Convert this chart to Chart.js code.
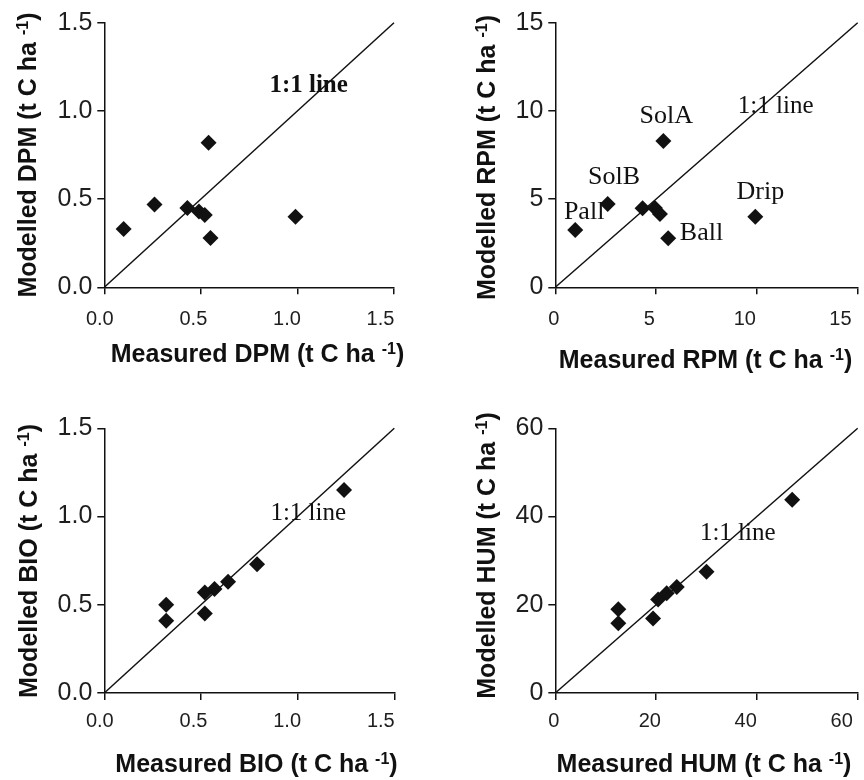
<!DOCTYPE html>
<html>
<head>
<meta charset="utf-8">
<script src="https://cdn.jsdelivr.net/npm/chart.js@4.4.0/dist/chart.umd.min.js"></script>
<style>
  html, body { margin: 0; padding: 0; background: #fff; }
  #wrap { position: relative; width: 864px; height: 780px; }
  canvas { position: absolute; }
</style>
</head>
<body>
<div id="wrap">
  <canvas id="dpmChart" width="432" height="390" style="left:0;top:0"></canvas>
  <canvas id="rpmChart" width="432" height="390" style="left:432px;top:0"></canvas>
  <canvas id="bioChart" width="432" height="390" style="left:0;top:390px"></canvas>
  <canvas id="humChart" width="432" height="390" style="left:432px;top:390px"></canvas>
</div>
<script>
// measured (x) vs modelled (y), t C ha-1, same 8 sites in every pool
const dpmMeasured = [0.10, 0.26, 0.43, 0.49, 0.52, 0.54, 0.55, 0.99];
const dpmModelled = [0.33, 0.47, 0.45, 0.43, 0.41, 0.82, 0.28, 0.40];
const rpmMeasured = [0.99, 2.6, 4.33, 4.94, 5.19, 5.36, 5.6, 9.92];
const rpmModelled = [3.25, 4.72, 4.48, 4.5, 4.16, 8.3, 2.78, 4.0];
const bioMeasured = [0.32, 0.32, 0.52, 0.52, 0.57, 0.64, 0.79, 1.24];
const bioModelled = [0.50, 0.41, 0.45, 0.57, 0.59, 0.63, 0.73, 1.15];
const humMeasured = [12.5, 12.5, 19.4, 20.4, 22.1, 24.1, 30.0, 47.0];
const humModelled = [19.0, 15.8, 16.9, 21.2, 22.6, 24.0, 27.5, 43.8];

const fracTicks = [0, 0.5, 1.0, 1.5];
const rpmTicks = [0, 5, 10, 15];
const humTicks = [0, 20, 40, 60];

// site names written beside the RPM points (anchor in data units)
const siteNames = ['SolA', 'SolB', 'Pall', 'Ball', 'Drip'];
const siteNameX = [5.5, 2.91, 1.43, 7.25, 10.17];
const siteNameY = [9.72, 6.24, 4.27, 3.07, 5.42];

const sansFont = '"Liberation Sans", Arial, sans-serif';
const serifFont = '"Liberation Serif", "Times New Roman", serif';
const ink = '#111';

function drawTitle(ctx, text, cx, baseY) {
    const main = text + ' (t C ha ';
    ctx.font = 'bold 25px ' + sansFont;
    const w1 = ctx.measureText(main).width;
    const w3 = ctx.measureText(')').width;
    ctx.font = 'bold 16px ' + sansFont;
    const w2 = ctx.measureText('-1').width;
    let x = cx - (w1 + w2 + w3) / 2;
    ctx.font = 'bold 25px ' + sansFont;
    ctx.fillText(main, x, baseY);
    x += w1;
    ctx.font = 'bold 16px ' + sansFont;
    ctx.fillText('-1', x, baseY - 8);
    x += w2;
    ctx.font = 'bold 25px ' + sansFont;
    ctx.fillText(')', x, baseY);
}

const extras = {
    id: 'extras',
    afterDraw(chart, args, p) {
        const ctx = chart.ctx;
        const xs = chart.scales.x, ys = chart.scales.y;
        ctx.save();

        // x tick labels (the original ones drift left a little)
        ctx.font = '20px ' + sansFont;
        ctx.fillStyle = '#1e1e1e';
        ctx.textAlign = 'center';
        ctx.textBaseline = 'middle';
        xs.ticks.forEach(t => {
            const px = xs.getPixelForValue(t.value);
            const shift = p.shift[0] + p.shift[1] * (px - xs.left);
            ctx.fillText(t.value.toFixed(p.dec), px + shift, xs.top + p.xGap);
        });

        // axis titles
        ctx.fillStyle = ink;
        ctx.textAlign = 'left';
        ctx.textBaseline = 'alphabetic';
        drawTitle(ctx, 'Measured ' + p.pool, p.xTitle[0], p.xTitle[1]);
        ctx.translate(p.yTitle[0], p.yTitle[1]);
        ctx.rotate(-Math.PI / 2);
        drawTitle(ctx, 'Modelled ' + p.pool, 0, 0);
        ctx.restore();

        // 1:1 line label and site names
        ctx.save();
        ctx.fillStyle = ink;
        ctx.textAlign = 'center';
        ctx.textBaseline = 'middle';
        ctx.font = (p.boldNote ? 'bold ' : '') + '25px ' + serifFont;
        ctx.fillText('1:1 line', xs.getPixelForValue(p.note[0]), ys.getPixelForValue(p.note[1]));
        if (p.sites) {
            ctx.font = '26px ' + serifFont;
            siteNames.forEach((s, i) => {
                ctx.fillText(s, xs.getPixelForValue(siteNameX[i]), ys.getPixelForValue(siteNameY[i]));
            });
        }
        ctx.restore();
    }
};

function makePanel(cfg) {
    const W = 432, H = 390;
    const pts = cfg.xs.map((v, i) => ({ x: v, y: cfg.ys[i] }));
    const top = cfg.ticks[cfg.ticks.length - 1];
    const axisOpts = {
        type: 'linear',
        min: 0,
        max: top,
        afterBuildTicks: s => { s.ticks = cfg.ticks.map(v => ({ value: v })); },
        grid: { drawOnChartArea: false, drawTicks: true, tickLength: 7, color: ink, lineWidth: 1.5 },
        border: { display: true, color: ink, width: 1.5 }
    };
    return new Chart(document.getElementById(cfg.id), {
        type: 'scatter',
        data: {
            datasets: [{
                data: pts,
                pointStyle: 'rectRot',
                pointRadius: 8,
                backgroundColor: ink,
                borderWidth: 0,
                order: 0
            }, {
                data: [{ x: 0, y: 0 }, { x: top, y: top }],
                showLine: true,
                borderColor: ink,
                borderWidth: 1.5,
                pointRadius: 0,
                clip: false,
                order: 1
            }]
        },
        plugins: [extras],
        options: {
            responsive: false,
            animation: false,
            events: [],
            layout: {
                autoPadding: false,
                padding: { left: 0, top: cfg.area[1], right: W - cfg.area[2], bottom: H - cfg.area[3] }
            },
            plugins: {
                legend: { display: false },
                tooltip: { enabled: false },
                extras: {
                    pool: cfg.pool, dec: cfg.dec, shift: cfg.shift, xGap: cfg.xGap,
                    xTitle: cfg.xTitle, yTitle: cfg.yTitle, note: cfg.note,
                    boldNote: cfg.boldNote, sites: cfg.sites
                }
            },
            scales: {
                x: Object.assign({}, axisOpts, {
                    position: 'bottom',
                    ticks: { display: false },
                    afterFit: s => { s.height = 0; }
                }),
                y: Object.assign({}, axisOpts, {
                    position: 'left',
                    ticks: {
                        color: '#1e1e1e',
                        padding: 5,
                        font: { family: sansFont, size: 25 },
                        callback: v => v.toFixed(cfg.dec)
                    },
                    afterFit: s => { s.width = cfg.area[0]; }
                })
            }
        }
    });
}

makePanel({
    id: 'dpmChart', pool: 'DPM', xs: dpmMeasured, ys: dpmModelled, ticks: fracTicks, dec: 1,
    area: [104.3, 22.7, 394, 287.3], shift: [-4.5, -0.031], xGap: 32,
    xTitle: [257.5, 361.7], yTitle: [36, 155], note: [1.058, 1.145], boldNote: true
});
makePanel({
    id: 'rpmChart', pool: 'RPM', xs: rpmMeasured, ys: rpmModelled, ticks: rpmTicks, dec: 0,
    area: [123.3, 22.7, 425.7, 287.3], shift: [-1.6, -0.052], xGap: 32,
    xTitle: [273.5, 368.3], yTitle: [63, 157.5], note: [10.93, 10.24], sites: true
});
makePanel({
    id: 'bioChart', pool: 'BIO', xs: bioMeasured, ys: bioModelled, ticks: fracTicks, dec: 1,
    area: [104.3, 38.3, 394.3, 303], shift: [-4.5, -0.031], xGap: 28,
    xTitle: [256.5, 381.7], yTitle: [36.7, 171], note: [1.055, 1.018]
});
makePanel({
    id: 'humChart', pool: 'HUM', xs: humMeasured, ys: humModelled, ticks: humTicks, dec: 0,
    area: [123.3, 38.3, 425.7, 303], shift: [-1.5, -0.048], xGap: 28,
    xTitle: [272, 381.7], yTitle: [63, 165.5], note: [36.2, 36.2]
});
</script>
</body>
</html>
